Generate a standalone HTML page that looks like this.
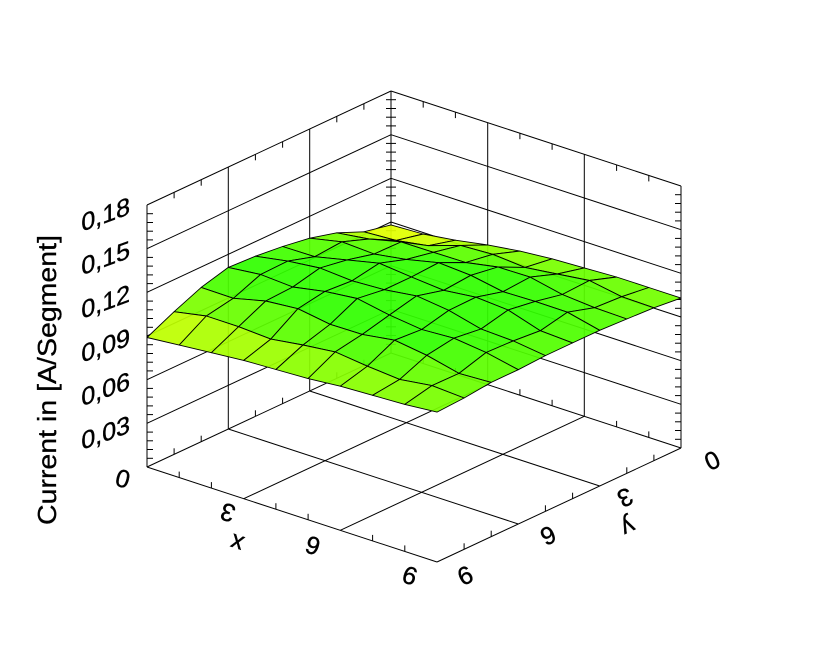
<!DOCTYPE html>
<html><head><meta charset="utf-8"><style>
html,body{margin:0;padding:0;background:#fff;width:827px;height:654px;overflow:hidden}
svg{display:block}
text{font-family:"Liberation Sans",sans-serif;fill:#000}
</style></head><body>
<svg id="s" width="827" height="654" xmlns="http://www.w3.org/2000/svg"></svg>
<script>
const B=[391,353],R=[681,448],L=[147,467],H=262;
function P(x,y,z){return [B[0]+x/9*(R[0]-B[0])+y/9*(L[0]-B[0]), B[1]+x/9*(R[1]-B[1])+y/9*(L[1]-B[1])-z/0.18*H];}
let out=[];
function line(a,b,w,c){out.push(`<line x1="${a[0].toFixed(1)}" y1="${a[1].toFixed(1)}" x2="${b[0].toFixed(1)}" y2="${b[1].toFixed(1)}" stroke="${c||'#000'}" stroke-width="${w||1}"/>`);}
for(let k=0;k<=6;k++){let z=0.03*k;line(P(0,0,z),P(0,9,z));line(P(0,0,z),P(9,0,z));}
for(const v of [3,6]){line(P(0,v,0),P(0,v,0.18));line(P(v,0,0),P(v,0,0.18));
 line(P(v,0,0),P(v,9,0));line(P(0,v,0),P(9,v,0));}
line(P(0,9,0),P(9,9,0));line(P(9,0,0),P(9,9,0));
line(P(0,0,0),P(0,0,0.18));line(P(0,9,0),P(0,9,0.18));line(P(9,0,0),P(9,0,0.18));
for(let k=1;k<30;k++){let z=0.006*k;
 if(k%5==0)continue;
 let a=P(0,9,z);line(a,[a[0]+6,a[1]]);
 let b=P(9,0,z);line(b,[b[0]-6,b[1]]);
 let c=P(0,0,z);line([c[0]-5,c[1]],[c[0]+5,c[1]]);}
for(let i=1;i<9;i++){if(i%3==0)continue;
 let a=P(0,i,0.18);line(a,[a[0],a[1]+6]);
 let b=P(i,0,0.18);line(b,[b[0],b[1]+6]);
 let c=P(i,9,0);line(c,[c[0],c[1]-6]);
 let d=P(9,i,0);line(d,[d[0],d[1]-6]);
 let e=P(0,i,0);line(e,[e[0],e[1]-6]);
 let f=P(i,0,0);line(f,[f[0],f[1]-6]);}
const ex0=[86,92,100,105,108,110,111,106,98,89];
const ey0=[86,89,92,96,99,101,102,103,103,103];
const ex9=[103,105,106,107,107,107,106,106,104,103];
const ey9=[89,91,93,95,96,97,99,100,101,103];
let Z=[];
for(let x=0;x<10;x++){Z[x]=[];for(let y=0;y<10;y++){
 let u=x/9,v=y/9;
 let c=(1-u)*ex0[y]+u*ex9[y]+(1-v)*ey0[x]+v*ey9[x]
   -((1-u)*(1-v)*ey0[0]+u*(1-v)*ey0[9]+(1-u)*v*ey9[0]+u*v*ey9[9]);
 let bump=(x>0&&x<9&&y>0&&y<9)?(6*Math.sin(Math.PI*u)*Math.sin(Math.PI*v)+2.5*Math.sin(x*1.7+y*2.3)):0;
 Z[x][y]=(c+bump)/1000;}}
Z[0][0]=0.088;
function col(z){let t=Math.max(0,Math.min(1,(z-0.090)/0.022));
 let r=Math.round(230*(1-t)+50*t),g=255,b=0;return `rgb(${r},${g},${b})`;}
let cells=[];
for(let x=0;x<9;x++)for(let y=0;y<9;y++)cells.push([x,y]);
cells.sort((a,b)=>(a[0]+a[1])-(b[0]+b[1]));
for(const [x,y] of cells){
 let pts=[[x,y],[x+1,y],[x+1,y+1],[x,y+1]];
 let zavg=pts.reduce((s,p)=>s+Z[p[0]][p[1]],0)/4;
 let s=pts.map(p=>P(p[0],p[1],Z[p[0]][p[1]]).map(n=>n.toFixed(1)).join(',')).join(' ');
 out.push(`<polygon points="${s}" fill="${col(zavg)}" fill-opacity="0.93" stroke="#000" stroke-width="0.9" stroke-linejoin="round"/>`);
}
const lab=["0,03","0,06","0,09","0,12","0,15","0,18"];
lab.forEach((t,i)=>{let y=467-(i+1)*H/6+9;
 out.push(`<text font-size="25" text-anchor="end" stroke="#000" stroke-width="0.4" transform="translate(130,${y}) skewY(-20)">${t}</text>`);});
out.push(`<text font-size="25" text-anchor="middle" dy="8" stroke="#000" stroke-width="0.4" transform="translate(123,478) rotate(195)">0</text>`);
out.push(`<text font-size="26" text-anchor="middle" textLength="290" lengthAdjust="spacingAndGlyphs" stroke="#000" stroke-width="0.3" transform="translate(56,380) rotate(-90)">Current in [A/Segment]</text>`);
const xl=[["3",228,512],["6",313,545],["9",410,575],["x",237,543]];
xl.forEach(a=>out.push(`<text font-size="25" text-anchor="middle" dy="8" stroke="#000" stroke-width="0.4" transform="translate(${a[1]},${a[2]}) rotate(198)">${a[0]}</text>`));
const yl=[["0",712,460],["3",625,497],["6",548,535],["9",465,575],["y",628,527]];
yl.forEach(a=>out.push(`<text font-size="25" text-anchor="middle" dy="8" stroke="#000" stroke-width="0.4" transform="translate(${a[1]},${a[2]}) rotate(155)">${a[0]}</text>`));
document.getElementById('s').innerHTML=out.join('');
</script>
</body></html>
